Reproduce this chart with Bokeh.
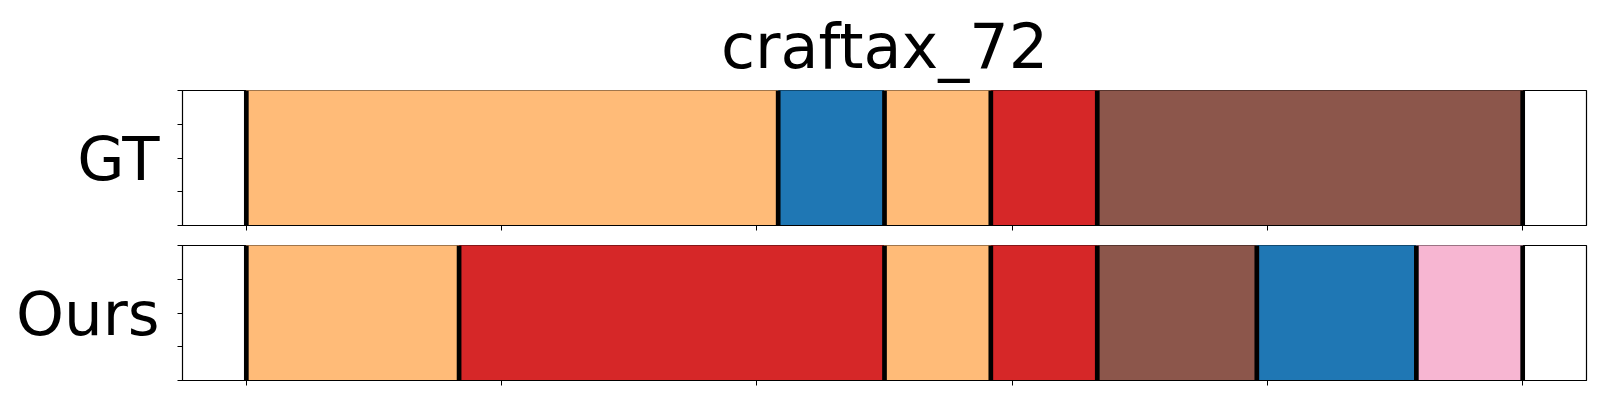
from bokeh.plotting import figure
from bokeh.layouts import column
from bokeh.models import FixedTicker, Range1d, ColumnDataSource, CustomJSTickFormatter
from bokeh.embed import file_html
from bokeh.resources import INLINE

title_text = "craftax_72"
row_labels = ["GT", "Ours"]

# segments as fractions of the episode (start, end, action colour)
gt_start = [0.0, 0.4167, 0.5, 0.5833, 0.6667]
gt_end = [0.4167, 0.5, 0.5833, 0.6667, 1.0]
gt_color = ["#ffbb78", "#1f77b4", "#ffbb78", "#d62728", "#8c564b"]

ours_start = [0.0, 0.1667, 0.5, 0.5833, 0.6667, 0.7917, 0.9167]
ours_end = [0.1667, 0.5, 0.5833, 0.6667, 0.7917, 0.9167, 1.0]
ours_color = ["#ffbb78", "#d62728", "#ffbb78", "#d62728", "#8c564b", "#1f77b4", "#f7b6d2"]

x_ticks = [0.0, 0.2, 0.4, 0.6, 0.8, 1.0]
y_ticks = [0.0, 0.25, 0.5, 0.75, 1.0]

FONT = "DejaVu Sans"


def make_panel(label, starts, ends, colors, top_border, bottom_border, title=None):
    kw = dict(
        frame_width=1404, frame_height=135,
        min_border_left=182, min_border_right=6,
        min_border_top=top_border, min_border_bottom=bottom_border,
        x_range=Range1d(-0.05, 1.05), y_range=Range1d(0, 1),
        output_backend="svg", toolbar_location=None,
    )
    if title is not None:
        kw["title"] = title
    p = figure(**kw)
    if title is not None:
        p.title.text_font = FONT
        p.title.text_font_size = "62px"
        p.title.text_font_style = "normal"
        p.title.text_color = "black"
        p.title.align = "center"
        p.title.standoff = 15
    src = ColumnDataSource(dict(left=starts, right=ends, color=colors))
    p.quad(left="left", right="right", bottom=0, top=1, fill_color="color",
           line_color="color", line_width=1, source=src)
    bounds = [starts[0]] + list(ends)
    p.segment(x0=bounds, x1=bounds, y0=[0] * len(bounds), y1=[1] * len(bounds),
              line_color="black", line_width=4.7)
    p.grid.visible = False
    p.outline_line_color = "black"
    p.outline_line_width = 1.2
    p.background_fill_color = "white"
    p.border_fill_color = "white"

    p.xaxis.ticker = FixedTicker(ticks=x_ticks)
    p.yaxis.ticker = FixedTicker(ticks=y_ticks)
    for ax in (p.xaxis[0], p.yaxis[0]):
        ax.formatter = CustomJSTickFormatter(code="return '';")
        ax.major_label_text_font_size = "1px"
        ax.major_label_text_color = None
        ax.major_label_standoff = 0
        ax.minor_tick_line_color = None
        ax.major_tick_out = 5
        ax.major_tick_in = 0
        ax.major_tick_line_color = "black"
        ax.major_tick_line_width = 1
        ax.axis_line_color = "black"
    p.yaxis.axis_label = label
    p.yaxis.axis_label_orientation = "horizontal"
    p.yaxis.axis_label_text_font = FONT
    p.yaxis.axis_label_text_font_size = "61px"
    p.yaxis.axis_label_text_font_style = "normal"
    p.yaxis.axis_label_text_color = "black"
    p.yaxis.axis_label_standoff = 18
    return p


p1 = make_panel(row_labels[0], gt_start, gt_end, gt_color, 90, 10, title=title_text)
p2 = make_panel(row_labels[1], ours_start, ours_end, ours_color, 10, 10)

layout = column(p1, p2, spacing=0)
open("out.html", "w").write(file_html(layout, INLINE))
